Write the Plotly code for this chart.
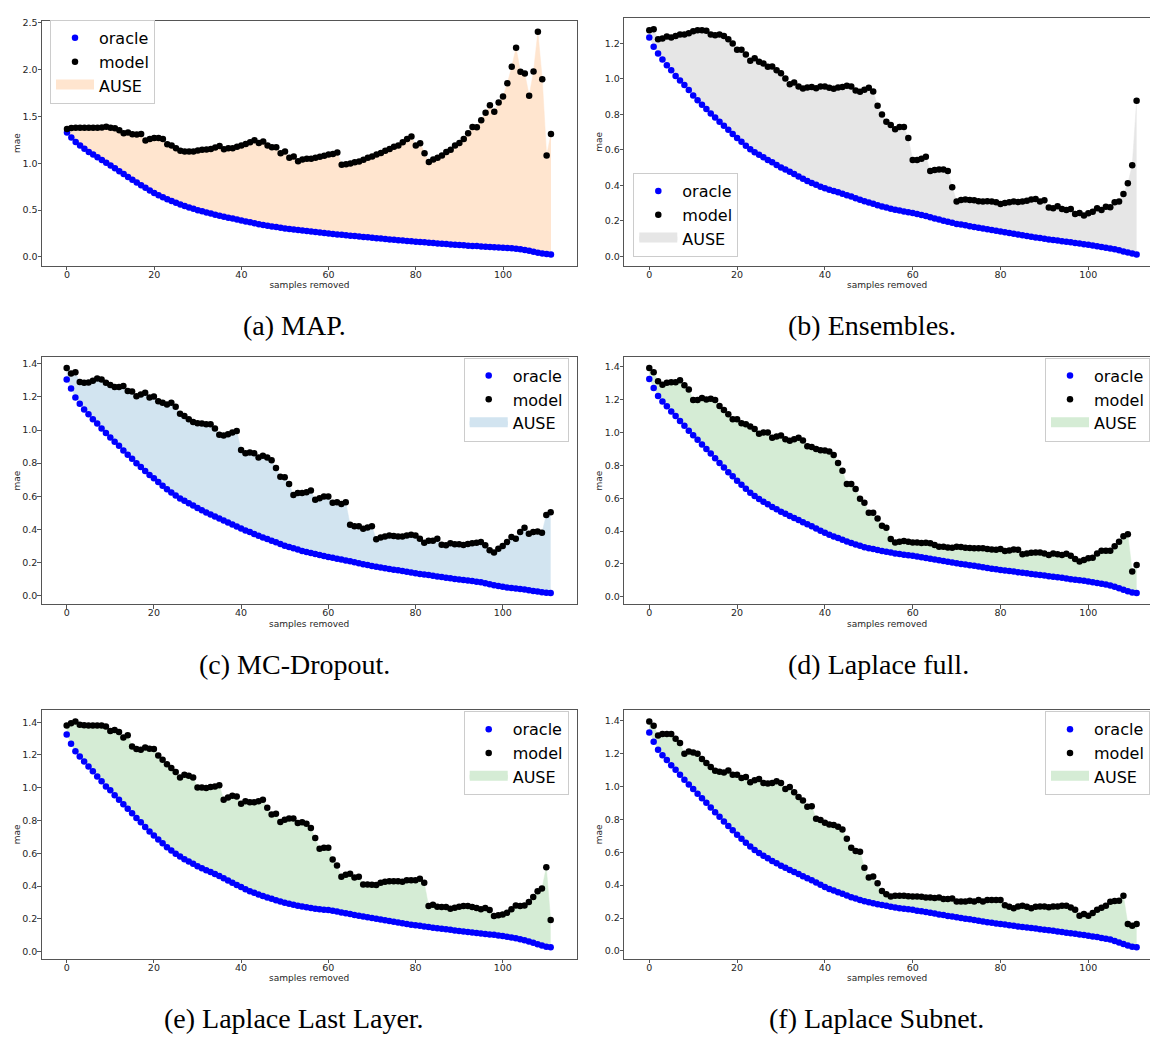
import plotly.graph_objects as go

W, H = 1150, 1037

samples_removed = list(range(112))

# ---- (a) MAP ----
oracle_map = [
    1.330, 1.275, 1.228, 1.190, 1.155, 1.122, 1.093, 1.064, 1.035, 1.006,
    0.977, 0.947, 0.916, 0.886, 0.855, 0.825, 0.796, 0.767, 0.739, 0.711,
    0.684, 0.660, 0.638, 0.617, 0.597, 0.578, 0.561, 0.545, 0.529, 0.514,
    0.500, 0.488, 0.476, 0.464, 0.452, 0.440, 0.430, 0.420, 0.410, 0.400,
    0.390, 0.380, 0.370, 0.360, 0.350, 0.341, 0.333, 0.326, 0.319, 0.312,
    0.305, 0.300, 0.294, 0.289, 0.283, 0.278, 0.272, 0.267, 0.261, 0.256,
    0.250, 0.246, 0.241, 0.237, 0.232, 0.228, 0.223, 0.219, 0.214, 0.210,
    0.205, 0.201, 0.197, 0.192, 0.188, 0.184, 0.180, 0.176, 0.171, 0.167,
    0.163, 0.159, 0.156, 0.152, 0.149, 0.145, 0.141, 0.138, 0.134, 0.131,
    0.127, 0.124, 0.121, 0.118, 0.116, 0.113, 0.110, 0.107, 0.104, 0.102,
    0.099, 0.096, 0.093, 0.089, 0.083, 0.075, 0.066, 0.056, 0.046, 0.038,
    0.031, 0.026,
]
model_map = [
    1.367, 1.376, 1.380, 1.380, 1.380, 1.380, 1.380, 1.380, 1.383, 1.390,
    1.380, 1.374, 1.353, 1.320, 1.330, 1.310, 1.307, 1.314, 1.243, 1.260,
    1.271, 1.271, 1.260, 1.204, 1.190, 1.160, 1.133, 1.126, 1.126, 1.126,
    1.137, 1.144, 1.147, 1.154, 1.168, 1.186, 1.150, 1.161, 1.161, 1.176,
    1.190, 1.207, 1.225, 1.246, 1.218, 1.232, 1.190, 1.172, 1.172, 1.108,
    1.126, 1.059, 1.073, 1.023, 1.040, 1.048, 1.048, 1.060, 1.070, 1.080,
    1.094, 1.100, 1.115, 0.984, 0.990, 0.998, 1.010, 1.020, 1.037, 1.059,
    1.073, 1.094, 1.110, 1.133, 1.154, 1.176, 1.190, 1.225, 1.260, 1.285,
    1.190, 1.215, 1.108, 1.013, 1.040, 1.059, 1.084, 1.120, 1.144, 1.190,
    1.218, 1.260, 1.320, 1.388, 1.385, 1.459, 1.540, 1.620, 1.550, 1.650,
    1.714, 1.855, 2.030, 2.234, 1.976, 1.958, 1.720, 1.980, 2.404, 1.898,
    1.084, 1.314,
]

# ---- (b) Ensembles ----
oracle_ens = [
    1.232, 1.180, 1.142, 1.108, 1.076, 1.048, 1.016, 0.990, 0.964, 0.936,
    0.906, 0.879, 0.853, 0.829, 0.804, 0.782, 0.758, 0.735, 0.713, 0.689,
    0.666, 0.645, 0.623, 0.602, 0.586, 0.572, 0.557, 0.542, 0.529, 0.514,
    0.500, 0.488, 0.476, 0.463, 0.449, 0.436, 0.424, 0.413, 0.402, 0.392,
    0.383, 0.375, 0.368, 0.360, 0.352, 0.344, 0.336, 0.327, 0.318, 0.310,
    0.302, 0.295, 0.287, 0.280, 0.274, 0.268, 0.262, 0.257, 0.252, 0.248,
    0.244, 0.238, 0.232, 0.226, 0.220, 0.213, 0.207, 0.200, 0.194, 0.188,
    0.182, 0.178, 0.174, 0.169, 0.165, 0.161, 0.156, 0.152, 0.148, 0.143,
    0.139, 0.135, 0.131, 0.127, 0.122, 0.118, 0.114, 0.110, 0.106, 0.102,
    0.098, 0.094, 0.091, 0.088, 0.084, 0.081, 0.078, 0.074, 0.071, 0.067,
    0.064, 0.060, 0.056, 0.052, 0.048, 0.044, 0.039, 0.033, 0.027, 0.021,
    0.015, 0.010,
]
model_ens = [
    1.273, 1.279, 1.223, 1.226, 1.238, 1.232, 1.241, 1.249, 1.249, 1.256,
    1.268, 1.273, 1.273, 1.271, 1.249, 1.245, 1.249, 1.241, 1.223, 1.198,
    1.163, 1.163, 1.136, 1.101, 1.116, 1.095, 1.086, 1.067, 1.069, 1.048,
    1.031, 1.001, 0.969, 0.979, 0.956, 0.945, 0.951, 0.954, 0.947, 0.956,
    0.956, 0.949, 0.943, 0.951, 0.954, 0.960, 0.956, 0.934, 0.926, 0.938,
    0.949, 0.928, 0.848, 0.799, 0.758, 0.739, 0.716, 0.728, 0.728, 0.666,
    0.542, 0.542, 0.549, 0.561, 0.480, 0.486, 0.488, 0.488, 0.480, 0.388,
    0.308, 0.317, 0.319, 0.317, 0.315, 0.309, 0.308, 0.309, 0.308, 0.304,
    0.294, 0.300, 0.304, 0.308, 0.306, 0.308, 0.313, 0.319, 0.322, 0.308,
    0.315, 0.274, 0.270, 0.281, 0.266, 0.261, 0.266, 0.238, 0.244, 0.229,
    0.242, 0.251, 0.270, 0.261, 0.279, 0.276, 0.304, 0.308, 0.351, 0.411,
    0.512, 0.876,
]

# ---- (c) MC-Dropout ----
oracle_mcd = [
    1.306, 1.251, 1.197, 1.159, 1.125, 1.095, 1.065, 1.039, 1.009, 0.983,
    0.955, 0.929, 0.905, 0.876, 0.850, 0.826, 0.800, 0.776, 0.752, 0.728,
    0.708, 0.686, 0.664, 0.642, 0.622, 0.604, 0.586, 0.572, 0.558, 0.544,
    0.529, 0.515, 0.501, 0.489, 0.477, 0.465, 0.453, 0.441, 0.429, 0.417,
    0.405, 0.393, 0.383, 0.371, 0.361, 0.351, 0.341, 0.331, 0.321, 0.311,
    0.301, 0.293, 0.285, 0.277, 0.269, 0.263, 0.257, 0.251, 0.245, 0.239,
    0.233, 0.228, 0.222, 0.217, 0.211, 0.206, 0.200, 0.195, 0.189, 0.184,
    0.178, 0.174, 0.169, 0.165, 0.160, 0.156, 0.152, 0.147, 0.143, 0.138,
    0.134, 0.130, 0.126, 0.123, 0.119, 0.115, 0.111, 0.107, 0.104, 0.100,
    0.096, 0.093, 0.090, 0.087, 0.083, 0.079, 0.074, 0.068, 0.062, 0.057,
    0.052, 0.048, 0.045, 0.042, 0.039, 0.036, 0.032, 0.027, 0.023, 0.019,
    0.016, 0.014,
]
model_mcd = [
    1.376, 1.342, 1.350, 1.290, 1.286, 1.288, 1.298, 1.312, 1.306, 1.286,
    1.272, 1.260, 1.260, 1.266, 1.237, 1.233, 1.205, 1.215, 1.225, 1.197,
    1.203, 1.175, 1.165, 1.155, 1.165, 1.141, 1.099, 1.085, 1.065, 1.049,
    1.041, 1.039, 1.035, 1.035, 1.009, 0.971, 0.967, 0.975, 0.985, 0.995,
    0.880, 0.860, 0.864, 0.860, 0.834, 0.844, 0.834, 0.818, 0.770, 0.718,
    0.714, 0.674, 0.608, 0.620, 0.620, 0.624, 0.634, 0.578, 0.588, 0.598,
    0.598, 0.560, 0.564, 0.553, 0.564, 0.427, 0.419, 0.419, 0.403, 0.411,
    0.419, 0.339, 0.351, 0.357, 0.363, 0.359, 0.357, 0.357, 0.363, 0.367,
    0.363, 0.343, 0.319, 0.331, 0.331, 0.343, 0.307, 0.303, 0.315, 0.309,
    0.309, 0.305, 0.311, 0.315, 0.319, 0.323, 0.303, 0.273, 0.259, 0.283,
    0.299, 0.323, 0.353, 0.343, 0.383, 0.409, 0.373, 0.383, 0.387, 0.379,
    0.487, 0.503,
]

# ---- (d) Laplace full ----
oracle_full = [
    1.327, 1.271, 1.223, 1.190, 1.160, 1.128, 1.101, 1.071, 1.041, 1.011,
    0.984, 0.956, 0.928, 0.900, 0.872, 0.843, 0.815, 0.787, 0.759, 0.734,
    0.706, 0.682, 0.658, 0.634, 0.614, 0.595, 0.579, 0.563, 0.547, 0.533,
    0.518, 0.506, 0.492, 0.480, 0.468, 0.454, 0.442, 0.430, 0.416, 0.402,
    0.389, 0.377, 0.367, 0.357, 0.347, 0.337, 0.327, 0.318, 0.310, 0.302,
    0.296, 0.290, 0.284, 0.279, 0.274, 0.269, 0.264, 0.260, 0.256, 0.253,
    0.250, 0.245, 0.241, 0.236, 0.232, 0.227, 0.222, 0.218, 0.213, 0.209,
    0.204, 0.200, 0.196, 0.192, 0.188, 0.184, 0.179, 0.175, 0.171, 0.167,
    0.163, 0.160, 0.156, 0.153, 0.149, 0.146, 0.143, 0.139, 0.136, 0.132,
    0.129, 0.125, 0.122, 0.118, 0.115, 0.111, 0.107, 0.104, 0.100, 0.097,
    0.093, 0.088, 0.084, 0.079, 0.074, 0.069, 0.061, 0.052, 0.042, 0.033,
    0.026, 0.022,
]
model_full = [
    1.394, 1.368, 1.313, 1.291, 1.303, 1.307, 1.307, 1.319, 1.289, 1.263,
    1.198, 1.198, 1.210, 1.202, 1.206, 1.198, 1.162, 1.138, 1.112, 1.081,
    1.081, 1.057, 1.051, 1.037, 1.021, 0.993, 1.001, 1.001, 0.968, 0.976,
    0.982, 0.960, 0.950, 0.960, 0.968, 0.952, 0.916, 0.912, 0.900, 0.892,
    0.890, 0.884, 0.863, 0.815, 0.767, 0.686, 0.686, 0.656, 0.597, 0.573,
    0.512, 0.512, 0.476, 0.432, 0.420, 0.351, 0.331, 0.335, 0.339, 0.335,
    0.331, 0.331, 0.327, 0.329, 0.325, 0.315, 0.305, 0.305, 0.300, 0.299,
    0.305, 0.303, 0.299, 0.297, 0.295, 0.295, 0.295, 0.290, 0.288, 0.286,
    0.290, 0.278, 0.282, 0.288, 0.286, 0.258, 0.264, 0.268, 0.270, 0.270,
    0.264, 0.254, 0.264, 0.258, 0.254, 0.262, 0.250, 0.230, 0.214, 0.224,
    0.234, 0.238, 0.264, 0.280, 0.280, 0.280, 0.307, 0.335, 0.369, 0.381,
    0.153, 0.194,
]

# ---- (e) Laplace Last Layer ----
oracle_last = [
    1.325, 1.268, 1.223, 1.191, 1.160, 1.130, 1.100, 1.069, 1.039, 1.008,
    0.984, 0.954, 0.927, 0.899, 0.872, 0.844, 0.816, 0.789, 0.761, 0.733,
    0.708, 0.684, 0.661, 0.637, 0.617, 0.597, 0.580, 0.564, 0.550, 0.536,
    0.521, 0.509, 0.497, 0.485, 0.473, 0.461, 0.448, 0.434, 0.420, 0.406,
    0.394, 0.381, 0.369, 0.359, 0.349, 0.339, 0.330, 0.322, 0.314, 0.306,
    0.298, 0.292, 0.286, 0.280, 0.275, 0.270, 0.266, 0.262, 0.259, 0.256,
    0.254, 0.249, 0.244, 0.239, 0.234, 0.229, 0.224, 0.219, 0.214, 0.210,
    0.205, 0.200, 0.196, 0.191, 0.187, 0.182, 0.178, 0.173, 0.169, 0.164,
    0.160, 0.157, 0.153, 0.150, 0.146, 0.143, 0.140, 0.136, 0.133, 0.129,
    0.126, 0.123, 0.120, 0.117, 0.114, 0.111, 0.108, 0.105, 0.102, 0.098,
    0.095, 0.091, 0.086, 0.081, 0.075, 0.069, 0.062, 0.054, 0.045, 0.037,
    0.030, 0.026,
]
model_last = [
    1.380, 1.394, 1.404, 1.384, 1.382, 1.380, 1.380, 1.380, 1.380, 1.374,
    1.347, 1.353, 1.341, 1.307, 1.321, 1.252, 1.236, 1.232, 1.246, 1.238,
    1.236, 1.197, 1.171, 1.144, 1.120, 1.096, 1.063, 1.079, 1.073, 1.063,
    1.002, 1.002, 0.998, 1.004, 1.008, 1.016, 0.927, 0.941, 0.951, 0.947,
    0.903, 0.917, 0.911, 0.911, 0.917, 0.927, 0.878, 0.836, 0.842, 0.791,
    0.805, 0.812, 0.812, 0.785, 0.789, 0.781, 0.755, 0.694, 0.627, 0.633,
    0.633, 0.562, 0.525, 0.456, 0.469, 0.475, 0.452, 0.456, 0.410, 0.410,
    0.408, 0.406, 0.420, 0.426, 0.430, 0.430, 0.430, 0.426, 0.436, 0.436,
    0.436, 0.444, 0.420, 0.278, 0.286, 0.274, 0.272, 0.272, 0.262, 0.268,
    0.274, 0.278, 0.278, 0.272, 0.266, 0.258, 0.266, 0.254, 0.217, 0.221,
    0.227, 0.237, 0.258, 0.282, 0.278, 0.282, 0.302, 0.333, 0.369, 0.385,
    0.515, 0.193,
]

# ---- (f) Laplace Subnet ----
oracle_subnet = [
    1.327, 1.271, 1.223, 1.190, 1.160, 1.128, 1.101, 1.071, 1.041, 1.011,
    0.984, 0.956, 0.928, 0.900, 0.872, 0.843, 0.815, 0.787, 0.759, 0.734,
    0.706, 0.682, 0.658, 0.634, 0.614, 0.595, 0.579, 0.563, 0.547, 0.533,
    0.518, 0.506, 0.492, 0.480, 0.468, 0.454, 0.442, 0.430, 0.416, 0.402,
    0.389, 0.377, 0.367, 0.357, 0.347, 0.337, 0.327, 0.318, 0.310, 0.302,
    0.296, 0.290, 0.284, 0.279, 0.274, 0.269, 0.264, 0.260, 0.256, 0.253,
    0.250, 0.245, 0.241, 0.236, 0.232, 0.227, 0.222, 0.218, 0.213, 0.209,
    0.204, 0.200, 0.196, 0.192, 0.188, 0.184, 0.179, 0.175, 0.171, 0.167,
    0.163, 0.160, 0.156, 0.153, 0.149, 0.146, 0.143, 0.139, 0.136, 0.132,
    0.129, 0.125, 0.122, 0.118, 0.115, 0.111, 0.107, 0.104, 0.100, 0.097,
    0.093, 0.088, 0.084, 0.079, 0.074, 0.069, 0.061, 0.052, 0.042, 0.033,
    0.026, 0.022,
]
model_subnet = [
    1.394, 1.368, 1.309, 1.319, 1.319, 1.319, 1.289, 1.263, 1.198, 1.212,
    1.206, 1.198, 1.166, 1.142, 1.118, 1.095, 1.089, 1.085, 1.097, 1.071,
    1.071, 1.051, 1.057, 1.025, 1.037, 1.045, 1.021, 1.017, 1.021, 1.031,
    1.021, 0.984, 0.997, 0.964, 0.936, 0.914, 0.876, 0.880, 0.803, 0.795,
    0.779, 0.769, 0.765, 0.755, 0.738, 0.682, 0.627, 0.607, 0.603, 0.506,
    0.446, 0.452, 0.412, 0.365, 0.345, 0.331, 0.335, 0.335, 0.335, 0.333,
    0.331, 0.331, 0.329, 0.325, 0.325, 0.321, 0.325, 0.315, 0.315, 0.319,
    0.300, 0.300, 0.300, 0.305, 0.300, 0.309, 0.300, 0.309, 0.309, 0.309,
    0.309, 0.278, 0.268, 0.260, 0.270, 0.274, 0.268, 0.260, 0.268, 0.270,
    0.270, 0.266, 0.270, 0.270, 0.274, 0.274, 0.264, 0.250, 0.214, 0.224,
    0.214, 0.230, 0.250, 0.262, 0.274, 0.299, 0.303, 0.305, 0.335, 0.163,
    0.153, 0.163,
]

captions = ["(a) MAP.", "(b) Ensembles.", "(c) MC-Dropout.",
            "(d) Laplace full.", "(e) Laplace Last Layer.", "(f) Laplace Subnet."]
legend_labels = ["oracle", "model", "AUSE"]

# shaded-area colours (20% tints of the matplotlib tab colours on white)
FILL_ORANGE = "#ffe5cf"
FILL_GRAY = "#e6e6e6"
FILL_BLUE = "#d2e4f0"
FILL_GREEN = "#d5ecd5"

# layout of each panel in page pixels: frame (left, right, top, bottom)
panels = [
    dict(oracle=oracle_map, model=model_map, fill=FILL_ORANGE,
         frame=(42, 577, 16.7, 262.7), xr=(-5.73, 116.97), dtick=0.5, right_cut=False,
         leg=dict(x=50, y=16, xanchor="left", yanchor="top"), cap=(294.5, 323)),
    dict(oracle=oracle_ens, model=model_ens, fill=FILL_GRAY,
         frame=(624.3, 1150, 14, 262.7), xr=(-5.69, 114.05), dtick=0.2, right_cut=True,
         leg=dict(x=633.3, y=254, xanchor="left", yanchor="bottom"), cap=(872, 323)),
    dict(oracle=oracle_mcd, model=model_mcd, fill=FILL_BLUE,
         frame=(41.7, 576.7, 354, 602.7), xr=(-5.73, 116.97), dtick=0.2, right_cut=False,
         leg=dict(x=568.7, y=355, xanchor="right", yanchor="top"), cap=(294, 663)),
    dict(oracle=oracle_full, model=model_full, fill=FILL_GREEN,
         frame=(624.3, 1150, 354, 602.7), xr=(-5.69, 114.05), dtick=0.2, right_cut=True,
         leg=dict(x=1150, y=355, xanchor="right", yanchor="top"), cap=(878, 663)),
    dict(oracle=oracle_last, model=model_last, fill=FILL_GREEN,
         frame=(41.7, 576.7, 709, 958.3), xr=(-5.73, 116.97), dtick=0.2, right_cut=False,
         leg=dict(x=568.7, y=710, xanchor="right", yanchor="top"), cap=(294, 1018)),
    dict(oracle=oracle_subnet, model=model_subnet, fill=FILL_GREEN,
         frame=(624.3, 1150, 709, 958.3), xr=(-5.69, 114.05), dtick=0.2, right_cut=True,
         leg=dict(x=1150, y=710, xanchor="right", yanchor="top"), cap=(876, 1018)),
]

for p in panels:
    assert len(p["oracle"]) == len(samples_removed) == len(p["model"])

FONT = "DejaVu Sans"
SPINE = "#555555"
TICKFONT = dict(family=FONT, size=9.5, color="#262626")

fig = go.Figure()
layout = dict(
    width=W, height=H, margin=dict(l=0, r=0, t=0, b=0),
    paper_bgcolor="white", plot_bgcolor="white",
    font=dict(family=FONT, color="black"),
    showlegend=True, annotations=[],
)

for i, p in enumerate(panels, start=1):
    sfx = "" if i == 1 else str(i)
    xa, ya = "x" + sfx, "y" + sfx
    leg_name = "legend" + sfx

    # shaded area between oracle and model curves
    fig.add_trace(go.Scatter(
        x=samples_removed, y=p["oracle"], xaxis=xa, yaxis=ya, mode="lines",
        line=dict(width=0, color=p["fill"]), showlegend=False, hoverinfo="skip",
        legend=leg_name))
    fig.add_trace(go.Scatter(
        x=samples_removed, y=p["model"], xaxis=xa, yaxis=ya, mode="lines",
        line=dict(width=0.5, color=p["fill"]), fill="tonexty", fillcolor=p["fill"],
        showlegend=False, hoverinfo="skip", legend=leg_name))
    # legend swatch for the shaded area (thick patch)
    fig.add_trace(go.Scatter(
        x=[None], y=[None], xaxis=xa, yaxis=ya, mode="lines",
        line=dict(width=8, color=p["fill"]), fill="toself", fillcolor=p["fill"],
        name=legend_labels[2], legend=leg_name, legendrank=3))
    fig.add_trace(go.Scatter(
        x=samples_removed, y=p["oracle"], xaxis=xa, yaxis=ya, mode="markers",
        marker=dict(color="#0000ff", size=6.5, line=dict(width=0)),
        name=legend_labels[0], legend=leg_name, legendrank=1))
    fig.add_trace(go.Scatter(
        x=samples_removed, y=p["model"], xaxis=xa, yaxis=ya, mode="markers",
        marker=dict(color="black", size=6.5, line=dict(width=0)),
        name=legend_labels[1], legend=leg_name, legendrank=2))

    lo = min(min(p["oracle"]), min(p["model"]))
    hi = max(max(p["oracle"]), max(p["model"]))
    pad = 0.05 * (hi - lo)
    left, right, top, bottom = p["frame"]

    layout["xaxis" + sfx] = dict(
        domain=[left / W, right / W], anchor=ya, range=list(p["xr"]),
        tickmode="linear", tick0=0, dtick=20, ticks="outside", ticklen=3.5,
        tickwidth=1, tickcolor=SPINE, tickfont=TICKFONT, ticklabelstandoff=-4,
        showline=True, linecolor=SPINE, linewidth=1, mirror=True,
        showgrid=False, zeroline=False,
        title=dict(text="samples removed", font=dict(family=FONT, size=9, color="#262626"),
                   standoff=3),
    )
    layout["yaxis" + sfx] = dict(
        domain=[1 - bottom / H, 1 - top / H], anchor=xa, range=[lo - pad, hi + pad],
        tickmode="linear", tick0=0, dtick=p["dtick"], tickformat=".1f",
        ticks="outside", ticklen=3.5, tickwidth=1, tickcolor=SPINE, tickfont=TICKFONT,
        ticklabelstandoff=-2,
        showline=True, linecolor=SPINE, linewidth=1, mirror=not p["right_cut"],
        showgrid=False, zeroline=False,
        title=dict(text="mae", font=dict(family=FONT, size=9, color="#262626"), standoff=0),
    )
    lg = p["leg"]
    layout[leg_name] = dict(
        x=lg["x"] / W, y=1 - lg["y"] / H, xanchor=lg["xanchor"], yanchor=lg["yanchor"],
        bgcolor="white", bordercolor="#cccccc", borderwidth=1,
        font=dict(family=FONT, size=16, color="black"), traceorder="normal",
        itemwidth=38,
    )
    cx, cy = p["cap"]
    layout["annotations"].append(dict(
        text=captions[i - 1], x=cx / W, y=1 - cy / H, xref="paper", yref="paper",
        xanchor="center", yanchor="middle", showarrow=False,
        font=dict(family="Liberation Serif", size=28, color="black")))

fig.update_layout(**layout)
fig.write_html("out.html", config={"displayModeBar": False})
